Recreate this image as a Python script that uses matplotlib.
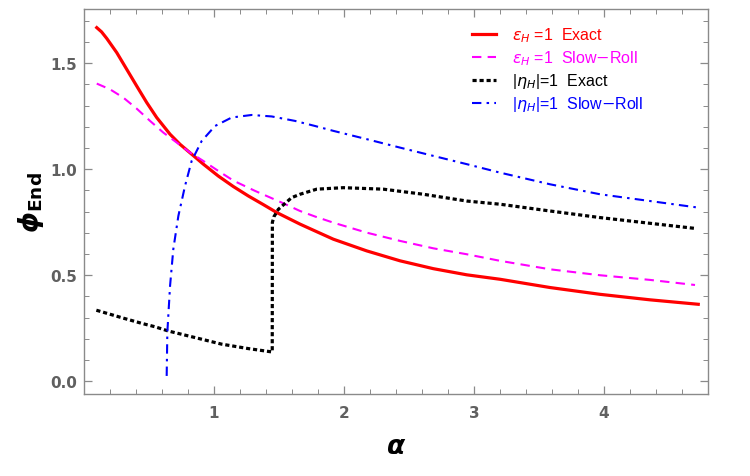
import numpy as np
import matplotlib.pyplot as plt
from matplotlib.ticker import MultipleLocator

# --- data ---
# eps_H = 1, exact
a_eps_ex = [0.098, 0.135, 0.175, 0.252, 0.328, 0.405, 0.482, 0.559, 0.662, 0.738, 0.828,
            0.918, 1.033, 1.15, 1.264, 1.38, 1.482, 1.58, 1.662, 1.777, 1.918, 2.174,
            2.431, 2.687, 2.944, 3.2, 3.585, 3.969, 4.354, 4.725]
p_eps_ex = [1.668, 1.648, 1.617, 1.550, 1.472, 1.393, 1.315, 1.244, 1.165, 1.118, 1.071,
            1.024, 0.968, 0.918, 0.874, 0.833, 0.796, 0.766, 0.741, 0.709, 0.670, 0.615,
            0.568, 0.531, 0.502, 0.481, 0.442, 0.410, 0.384, 0.363]

# eps_H = 1, slow roll
a_eps_sr = [0.098, 0.2, 0.302, 0.405, 0.508, 0.61, 0.713, 0.815, 0.918, 1.033, 1.15,
            1.315, 1.52, 1.662, 1.777, 1.918, 2.174, 2.431, 2.687, 2.944, 3.2, 3.585,
            3.969, 4.354, 4.7]
p_eps_sr = [1.404, 1.377, 1.338, 1.286, 1.228, 1.173, 1.126, 1.079, 1.039, 0.992, 0.946,
            0.898, 0.843, 0.803, 0.777, 0.748, 0.701, 0.662, 0.627, 0.599, 0.568, 0.528,
            0.500, 0.478, 0.454]

# |eta_H| = 1, exact (jump near alpha = 1.45)
a_eta_ex = [0.095, 0.3, 0.45, 0.546, 0.648, 0.854, 1.058, 1.264, 1.448, 1.449, 1.46,
            1.495, 1.597, 1.662, 1.79, 1.995, 2.302, 2.61, 2.944, 3.2, 3.585, 3.969,
            4.354, 4.713]
p_eta_ex = [0.335, 0.298, 0.272, 0.257, 0.237, 0.206, 0.175, 0.154, 0.138, 0.749, 0.775,
            0.811, 0.866, 0.882, 0.906, 0.913, 0.906, 0.882, 0.850, 0.835, 0.803, 0.772,
            0.745, 0.720]

# |eta_H| = 1, slow roll
a_eta_sr = [0.636, 0.641, 0.662, 0.687, 0.726, 0.777, 0.828, 0.905, 1.008, 1.136, 1.29,
            1.444, 1.623, 1.777, 1.918, 2.174, 2.431, 2.687, 2.944, 3.2, 3.585, 3.969,
            4.354, 4.725]
p_eta_sr = [0.025, 0.23, 0.45, 0.623, 0.78, 0.921, 1.039, 1.133, 1.204, 1.244, 1.256,
            1.249, 1.228, 1.204, 1.181, 1.142, 1.102, 1.063, 1.024, 0.984, 0.929, 0.882,
            0.850, 0.819]

labels = [r'$\epsilon_H$ =1  Exact', r'$\epsilon_H$ =1  Slow$-$Roll',
          r'|$\eta_H$|=1  Exact', r'|$\eta_H$|=1  Slow$-$Roll']

fig = plt.figure(figsize=(7.5, 4.77), dpi=100)
ax = fig.add_axes([0.112, 0.172, 0.832, 0.808])

ax.plot(a_eps_ex, p_eps_ex, color='red', lw=2.3, label=labels[0])
ax.plot(a_eps_sr, p_eps_sr, color='magenta', lw=1.5, ls=(0, (4.5, 3)), label=labels[1])
ax.plot(a_eta_ex, p_eta_ex, color='black', lw=2.3, ls=(0, (1.3, 0.9)), label=labels[2])
ax.plot(a_eta_sr, p_eta_sr, color='blue', lw=1.5, ls=(0, (4.5, 2.5, 1.2, 2.5)), label=labels[3])

ax.set_xlim(0.0, 4.8)
ax.set_ylim(-0.06, 1.758)
ax.xaxis.set_minor_locator(MultipleLocator(0.2))
ax.yaxis.set_minor_locator(MultipleLocator(0.1))
ax.set_yticks([0, 0.5, 1.0, 1.5])
ax.set_yticklabels(['0.0', '0.5', '1.0', '1.5'])
ax.set_xticks([1, 2, 3, 4])

frame_col = '#8a8a8a'
for s in ax.spines.values():
    s.set_color(frame_col)
    s.set_linewidth(1.0)
ax.tick_params(which='both', direction='in', top=True, right=True, color=frame_col,
               labelcolor='#606060', labelsize=11)
ax.tick_params(which='major', length=6, width=0.9)
ax.tick_params(which='minor', length=3.5, width=0.7)
ax.tick_params(axis='x', pad=8)
ax.tick_params(axis='y', pad=5)
for t in ax.get_xticklabels() + ax.get_yticklabels():
    t.set_fontweight('bold')

ax.set_xlabel('α', fontsize=19, fontweight='bold', fontstyle='italic', labelpad=9)
ax.set_ylabel(r'ϕ$_{\mathbf{End}}$', fontsize=19, fontweight='bold', fontstyle='italic',
              labelpad=3)

leg = ax.legend(loc='upper left', bbox_to_anchor=(0.612, 0.972), frameon=False,
                prop={'family': 'Liberation Sans', 'size': 11.5},
                handlelength=1.5, handletextpad=1.0, labelspacing=0.25,
                labelcolor='linecolor', borderaxespad=0)

fig.savefig('out.png', dpi=100)
